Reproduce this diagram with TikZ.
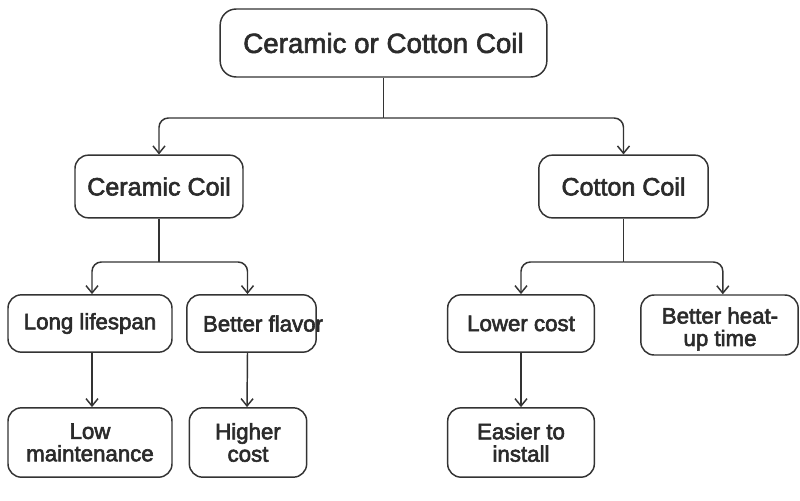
\documentclass[tikz,border=0pt]{standalone}
\usepackage{fontspec}
\setmainfont{Liberation Sans}
\usetikzlibrary{arrows.meta}
\definecolor{ln}{HTML}{333333}
\definecolor{tx}{HTML}{2B2B2B}
\newcommand\thk[1]{\special{pdf:literal direct q 2 Tr 0.45 w}#1\special{pdf:literal direct Q}}
\tikzset{
  box/.style={draw=ln, line width=1.1pt, rounded corners=10pt, fill=white, align=center, text=tx, inner sep=0pt},
  rootbox/.style={box, rounded corners=12pt, font=\fontsize{20.8}{24}\selectfont},
  midbox/.style={box, font=\fontsize{18.8}{22}\selectfont},
  leafbox/.style={box, font=\fontsize{16.7}{16.8}\selectfont},
  leaftext/.style={text=tx, align=center, inner sep=0pt, font=\fontsize{16.7}{16.8}\selectfont},
  conn/.style={draw=ln, line width=1.1pt, rounded corners=7pt},
  arr/.style={conn, -{Straight Barb[length=5.5pt,width=9pt,line width=1.1pt]}}
}
\begin{document}
\begin{tikzpicture}[x=0.75pt,y=-0.75pt]
\useasboundingbox[fill=white] (0,0) rectangle (800,500);
% nodes
\node[rootbox, minimum width=245pt, minimum height=51pt] (root) at (383.5,43) {\thk{Ceramic or Cotton Coil}};
\node[midbox, minimum width=126pt, minimum height=47pt] (cer) at (159,186.5) {\thk{Ceramic Coil}};
\node[midbox, minimum width=127pt, minimum height=47pt] (cot) at (623.5,186.5) {\thk{Cotton Coil}};
\node[leafbox, minimum width=123pt, minimum height=43pt] (ll) at (90,323.5) {\thk{Long lifespan}};
\node[leafbox, minimum width=97pt, minimum height=43pt] (bf) at (251.5,323.5) {};
\node[leaftext] (bft) at (263,323.5) {\thk{Better flavor}};
\node[leafbox, minimum width=110pt, minimum height=43pt] (lc) at (521,323.5) {\thk{Lower cost}};
\node[leafbox, minimum width=118pt, minimum height=45pt] (bh) at (719.5,325) {};
\node[leaftext] (bht) at (720,329) {\thk{Better heat-}\\\thk{up time}};
\node[leafbox, minimum width=123pt, minimum height=52pt] (lm) at (90,442.5) {\thk{Low}\\\thk{maintenance}};
\node[leafbox, minimum width=88pt, minimum height=52pt] (hc) at (248,442.5) {\thk{Higher}\\\thk{cost}};
\node[leafbox, minimum width=110pt, minimum height=52pt] (ei) at (521,442.5) {\thk{Easier to}\\\thk{install}};
% junctions
\coordinate (j0) at (383.5,118);
\coordinate (j1) at (159,262);
\coordinate (j2) at (623.5,262);
% connectors
\draw[conn] (root.south) -- (j0);
\draw[arr] (j0) -| (cer.north);
\draw[arr] (j0) -| (cot.north);
\draw[conn] (cer.south) -- (j1);
\draw[arr] (j1) -| ([xshift=1.5pt]ll.north);
\draw[arr] (j1) -| ([xshift=-3pt]bf.north);
\draw[conn] (cot.south) -- (j2);
\draw[arr] (j2) -| (lc.north);
\draw[arr] (j2) -| ([xshift=2.5pt]bh.north);
\draw[arr] ([xshift=1.5pt]ll.south) -- ([xshift=1.5pt]lm.north);
\draw[arr] ([xshift=-3pt]bf.south) -- ([xshift=-0.75pt]hc.north);
\draw[arr] (lc.south) -- (ei.north);
\end{tikzpicture}
\end{document}
